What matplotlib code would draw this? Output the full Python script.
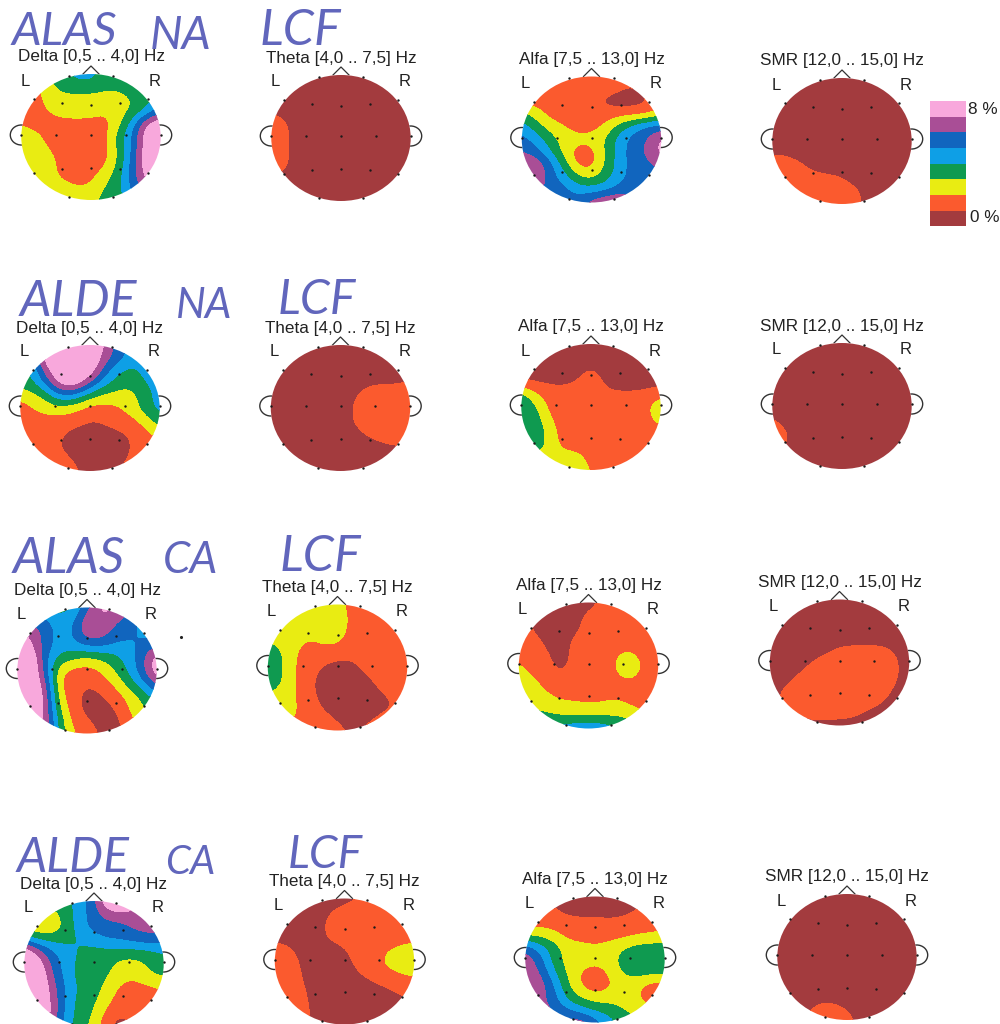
import numpy as np
import matplotlib
matplotlib.use("Agg")
import matplotlib.pyplot as plt
from matplotlib.patches import Ellipse, Rectangle

plt.rcParams['font.family'] = ['Liberation Sans', 'DejaVu Sans']

bands = ['Delta [0,5 .. 4,0] Hz', 'Theta [4,0 .. 7,5] Hz', 'Alfa [7,5 .. 13,0] Hz', 'SMR [12,0 .. 15,0] Hz']
colors = ['#A33B3E', '#FB5A2E', '#E9EC12', '#0F9A50', '#0E9FE6', '#1165BE', '#A94E96', '#F8A8DC']
scale_labels = ['8 %', '0 %']

# colour-band index (0 = 0 %, 7 = 8 %) read on a coarse grid over each head
r1_delta = [
 [3,3,3,3,4,4,3,3,3,3,3],
 [1,1,2,3,3,3,2.7,2.7,3,3,4],
 [1,1,2,2,2,2,2,2,2.5,3,4],
 [1,1,1.5,2,2,2,1.5,2,2.5,3.5,5],
 [1.5,1,1,1,1,1,1,2,4,7,8],
 [2,2,1,1,1,1,1,3,4.5,7.5,8],
 [2,2,1.5,1,1,1,1,2.6,4.5,7.5,8],
 [2,2,2,1,1,1,1,2.5,5,7.5,8],
 [2,2,2,1,1,1,2,3,5,7,8],
 [2,2,2,2,1.5,1.6,2.6,3,5,6,7],
 [2,2,2,2,2,2,3,3,4,5,6]]
r1_theta = [
 [0,0,0,0,0,0,0,0,0,0,0],
 [0,0,0,0,0,0,0,0,0,0,0],
 [0,0,0,0,0,0,0,0,0,0,0],
 [0.5,0.2,0,0,0,0,0,0,0,0,0],
 [1,0.7,0,0,0,0,0,0,0,0,0],
 [1,0.7,0,0,0,0,0,0,0,0,0],
 [1,0.7,0,0,0,0,0,0,0,0,0],
 [1,0.7,0,0,0,0,0,0,0,0,0],
 [0.6,0.3,0,0,0,0,0,0,0,0,0],
 [0,0,0,0,0,0,0,0,0,0,0],
 [0,0,0,0,0,0,0,0,0,0,0]]
r1_alfa = [
 [1,1,1,1,1,1,1,1,1,1,1],
 [1,1,1,1,1,1,1,0.6,0.2,1,1],
 [1,1,1,1,1,1,0,0,0,0.2,1],
 [3,2,1,1,1,1,1,1,1,1,2],
 [4,3,2,1.5,1,1,1.5,3,4,5,5],
 [5,4,3,2,2,2,2.5,4,5,5.4,7],
 [5.5,5,3.5,2,0.8,0.8,2.5,4,5,5.7,7],
 [6.5,6.5,5,3,1,1,2.5,4,5,5,6],
 [6.5,6.5,5,4,2.5,2,3,4,5,5,5],
 [6,6,5,5,4,4,4,5,5,5,5],
 [5,5,5,5,5,6,6.8,6.8,6,5,5]]
r1_smr = [
 [0,0,0,0,0,0,0,0,0,0,0],
 [0,0,0,0,0,0,0,0,0,0,0],
 [0,0,0,0,0,0,0,0,0,0,0],
 [0,0,0,0,0,0,0,0,0,0,0],
 [0,0,0,0,0,0,0,0,0,0,0],
 [0,0,0,0,0,0,0,0,0,0,0],
 [0.4,0.4,0,0,0,0,0,0,0,0,0],
 [1,1,0.8,0,0,0,0,0,0,0,0],
 [1,1,1,1,0.8,0.6,0,0,0,0,0],
 [1,1,1,1,1,1,0.8,0,0,0,0],
 [1,1,1,1,1,1,0.8,0,0,0,0]]
r2_delta = [
 [5,5,6,8,8,8,6.5,5,4,4,4],
 [4,4.5,8,8,8,8,6,5,4,4,4],
 [3,3.5,6.5,8,8,7.5,5,3.5,3,4,4],
 [3,3.3,5,7.5,7.5,5.5,3.7,3,2.7,3.5,4],
 [1.7,2,2.8,4.5,4,2.6,2.2,2,2,3,4],
 [1,1.5,2,2,1.5,1,1,1.3,2,3,4],
 [1,1,1,1,1,0.4,0.7,1,1,2,3],
 [1,1,1,0.6,0,0,0,0.3,0.6,1,2],
 [1,1,1,0.3,0,0,0,0,0.5,1,1],
 [1,1,1,0.8,0.3,0,0,0,0.7,1,1],
 [1,1,1,1,0.7,0,0,0.6,1,1,1]]
r2_theta = [
 [0,0,0,0,0,0,0,0,0,0,0],
 [0,0,0,0,0,0,0,0,0,0,0],
 [0,0,0,0,0,0,0,0,0,0,0],
 [0,0,0,0,0,0,0,0.3,0.4,0.4,0.6],
 [0,0,0,0,0,0,0.4,1,1,1,1],
 [0,0,0,0,0,0,0.6,1,1,1,1],
 [0,0,0,0,0,0,0.6,1,1,1,1],
 [0,0,0,0,0,0,0.2,0.7,1,1,1],
 [0,0,0,0,0,0,0,0,0.3,0.5,0.5],
 [0,0,0,0,0,0,0,0,0,0,0],
 [0,0,0,0,0,0,0,0,0,0,0]]
r2_alfa = [
 [0,0,0,0,0,0,0,0,0,0,0],
 [0,0,0,0,0,0,0,0,0,0,0],
 [0,0,0,0,0,0.7,0,0,0,0,0],
 [0.4,0.3,0.3,0.2,0.5,1.2,0.3,0,0,0,0.2],
 [3,1.6,1,1,1,1,0.7,0.7,0.7,0.8,1],
 [3.6,2.7,1,1,1,1,1,1,1,1.2,2.6],
 [3.6,3.2,1.5,1,1,1,1,1,1,1,2],
 [3.6,3.4,2,1,1,1,1,1,1,1,1],
 [3.4,3.2,2.2,1,1,1,1,1,1,1,1],
 [2,2,2,2,2,1,1,1,1,1,1],
 [2,2,2,2,2,1.5,1,1,1,1,1]]
r2_smr = [
 [0,0,0,0,0,0,0,0,0,0,0],
 [0,0,0,0,0,0,0,0,0,0,0],
 [0,0,0,0,0,0,0,0,0,0,0],
 [0,0,0,0,0,0,0,0,0,0,0],
 [0,0,0,0,0,0,0,0,0,0,0],
 [0,0,0,0,0,0,0,0,0,0,0],
 [0.6,0,0,0,0,0,0,0,0,0,0],
 [1,0.6,0,0,0,0,0,0,0,0,0],
 [1,0.6,0,0,0,0,0,0,0,0,0],
 [0,0,0,0,0,0,0,0,0,0,0],
 [0,0,0,0,0,0,0,0,0,0,0]]
r3_delta = [
 [3,3,3,3,3.2,5,6.8,6.8,6,5,5],
 [5,5,5,3.7,4,6.5,6.8,5.5,5,4,4],
 [6.5,6.5,5,4,4.4,6.5,6.2,5,5,4,4],
 [8,6.5,5,4,4,4.7,4.7,4.3,4,5,5],
 [8,8,4.5,3,2.7,2,2.5,3,4,5,7.5],
 [8,8,5,1.5,1,1,1.4,2.5,3.5,5.2,7.5],
 [8,8,6,1,1,0.5,1,1.5,3,4,6],
 [8,8,6.8,1.4,1,0,0.3,1,1.6,2.7,4],
 [8,8,6.5,2,1,0,0,0.4,1.6,2.3,3],
 [8,8,6.8,3,1,0.7,0,0,1,2,3],
 [8,8,6,3,1.5,1,0.4,0,1,2,3]]
r3_theta = [
 [2,2,2,2,2,2,1,1,1,1,1],
 [2,2,2,2,2,2,1.3,1,1,1,1],
 [2,2,2,2,2,2,1.2,1,1,1,1],
 [2.5,2,1.8,1.2,1.7,1.7,1,1,1,1,1],
 [3.4,2.6,1.4,1,1,0.8,0.8,1,1,1,1],
 [3.4,2.6,1.3,1,0.3,0,0,0.8,1,1,1],
 [3.4,2.6,1.4,0.7,0,0,0,0.1,0.9,1,1],
 [2.5,2,1.5,0.8,0,0,0,0,0.3,0.9,1],
 [2,2,1.6,0.9,0.3,0,0,0,0,0.4,1],
 [2,2,1.5,1,0.8,0.3,0,0.1,0.7,1,1],
 [1,1,1,1,1,0.9,0.2,0.8,1,1,1]]
r3_alfa = [
 [0.2,0.2,0.2,0.2,0,0,0.7,1,1,1,1],
 [0.6,0.6,0,0,0,0.8,1,1,1,1,1],
 [1,0.3,0,0,0.1,1,1,1,1,1,1],
 [1,0.9,0.2,0,0.7,1,1,1,1,1,1],
 [1,1,0.6,0,0.8,1,1,1.4,1.7,1,1],
 [1.7,1,0.8,0.1,0.8,1,1,1.6,2.3,1.3,1],
 [2,1.6,1,0.6,1,1,1,1.3,1.7,1,1],
 [2,2,1.4,1,1,1,1,1,1,1,1],
 [2,2,2,1.6,1.6,1.4,1.5,1.8,1.2,1,1],
 [3,3,2.5,2.4,2.2,2.2,2.2,2.4,2.3,1.7,1],
 [4,4,4,4,4.5,4.5,4.5,3.5,3,2,2]]
r3_smr = [
 [0,0,0,0,0,0,0,0,0,0,0],
 [0,0,0,0,0,0,0,0,0,0,0],
 [0,0,0,0,0,0,0,0,0,0,0],
 [0,0,0,0,0,0,0,0,0,0,0],
 [0,0,0,0,0.2,0.7,0.8,0.8,0.8,0.4,0],
 [0,0,0,0.5,1,1,1,1,1,0.7,0],
 [0,0,0.5,1,1,1,1,1,1,0.7,0],
 [0,0.5,1,1,1,1,1,1,1,0.4,0],
 [0,0.9,1,1,1,1,1,1,0.7,0,0],
 [0,0.4,0.9,1,1,1,0.8,0.3,0,0,0],
 [0,0,0,0,0,0,0,0,0,0,0]]
r4_delta = [
 [3,3,3,3,4,5,8,8,6,6,6],
 [3,3,1.8,3,4,5,6,6.3,6.7,6,6],
 [1.4,1.4,1.4,2.8,4,5,5,5,5.7,6,6],
 [4,3,3,3,3.6,4,4.7,4.7,5,5.3,5],
 [8,6,4.5,4,3.4,3,3,3,3,3,3.6],
 [8,7.5,5,4,3,3,2.8,2,2,2.7,3],
 [8,8,5.5,4,3,3,2.5,1.8,1.6,2.4,2.6],
 [8,8,6,4.3,3.2,3,2,1,1,1,1.5],
 [8,8,6.4,4,3,2.7,1.6,1,1,1,1],
 [8,8,6.4,4,3,2.5,0.8,0.4,1,1,1],
 [8,8,6,3.5,3,2,0.5,0,0.5,1,1]]
r4_theta = [
 [0,0,0,0,0,0,0.5,1,1,1,1],
 [0,0,0,0,0.4,1,1,1,1,1,1],
 [0,0,0,0,0.9,1,1,1,1,1,1],
 [0,0,0,0,0.8,1,1,1,1,1,1],
 [1,0.7,0,0,0,0.4,1,1,1.4,1.7,2],
 [1,1,0.3,0,0,0,0.9,1,1.8,2,2],
 [1,1,0.4,0,0,0,0.4,0.9,1.2,1.5,1.7],
 [1,1,0.6,0,0,0,0,0.1,0.5,0.8,1],
 [1,1,0.8,0,0,0,0,0,0,0.3,0.6],
 [1,1,0.9,0.1,0,0,0,0,0,0,0],
 [1,1,1,0,0,0,0,0,0,0,0]]
r4_alfa = [
 [0,0,0,0,0,0,0,0,0,0,0],
 [1,1,0.7,0,0,0,0,0,0.5,1,1],
 [1,1,1,0.9,0.8,0.8,0.7,0.8,1,1,1],
 [1.9,2,1.7,1,1,1,1,1,1.2,1.4,1.6],
 [5,4,3,2,1.8,1.6,1.8,2.4,2.9,3,3],
 [6.5,5,3,2,2,2,2,3,3.2,3.2,3],
 [6.5,5.5,3.6,2.2,1.4,0.8,1.5,2.7,3,3,3],
 [6.5,6.5,4.5,2.6,1.2,0.6,1.2,2,1.8,0.8,0.8],
 [6,6,5,3,2.3,1.8,2,2,1.6,0.8,1],
 [6,6,5.5,4.5,3.8,3.2,3,2.5,2,1.7,2],
 [6,6,6,6,6.5,5,4,3,3,2,2]]
r4_smr = [
 [0,0,0,0,0,0,0,0,0,0,0],
 [0,0,0,0,0,0,0,0,0,0,0],
 [0,0,0,0,0,0,0,0,0,0,0],
 [0,0,0,0,0,0,0,0,0,0,0],
 [0,0,0,0,0,0,0,0,0,0,0],
 [0,0,0,0,0,0,0,0,0,0,0],
 [0,0,0,0,0,0,0,0,0,0,0],
 [0,0,0,0,0,0,0,0,0,0,0],
 [0,0,0,0,0,0,0,0,0,0,0],
 [0,0,0,0.8,0.8,0.3,0,0,0,0,0],
 [0,0,0.8,1.2,1.2,1,0,0,0,0,0]]

maps = [r1_delta, r1_theta, r1_alfa, r1_smr,
        r2_delta, r2_theta, r2_alfa, r2_smr,
        r3_delta, r3_theta, r3_alfa, r3_smr,
        r4_delta, r4_theta, r4_alfa, r4_smr]

# layout in figure pixels
centers = [(91,137),(341,138),(591.5,139.5),(842,141),
           (90,408),(340.5,408),(591,407),(842,406),
           (87,670.5),(337.5,667.5),(588.5,665.5),(839.5,662.5),
           (94,964),(344.5,961.5),(595,959.5),(847,957)]
RX, RY = 69.7, 63

elec_x = [-0.32,0.32,-0.82,-0.42,0,0.42,0.82,-1,-0.5,0,0.5,1,-0.82,-0.42,0,0.42,0.82,-0.32,0.32]
elec_y = [0.97,0.97,0.6,0.54,0.51,0.54,0.6,0.03,0.03,0.03,0.03,0.03,-0.57,-0.51,-0.49,-0.51,-0.57,-0.95,-0.95]

hand_words = [('ALAS',12,45,47),('NA',150,49,46),('LCF',260,45,50),
              ('ALDE',20,316,50),('NA',176,318,42),('LCF',278,314,48),
              ('ALAS',13,573,50),('CA',163,573,44),('LCF',280,571,50),
              ('ALDE',17,872,48),('CA',165,874,40),('LCF',288,868,46)]


def fine_field(z, k=8, sigma=0.5):
    """Resample the read grid k times finer and soften the band edges."""
    ny, nx = z.shape
    xf = np.linspace(0, nx - 1, (nx - 1) * k + 1)
    yf = np.linspace(0, ny - 1, (ny - 1) * k + 1)
    a = np.array([np.interp(xf, np.arange(nx), row) for row in z])
    a = np.array([np.interp(yf, np.arange(ny), col) for col in a.T]).T
    r = int(3 * sigma * k)
    g = np.exp(-0.5 * (np.arange(-r, r + 1) / (sigma * k)) ** 2)
    g /= g.sum()
    p = np.pad(a, r, mode='edge')
    p = np.apply_along_axis(lambda m: np.convolve(m, g, mode='valid'), 0, p)
    p = np.apply_along_axis(lambda m: np.convolve(m, g, mode='valid'), 1, p)
    return p


fig = plt.figure(figsize=(10, 10.24), dpi=100)
ax = fig.add_axes([0, 0, 1, 1])
ax.set_xlim(0, 1000)
ax.set_ylim(1024, 0)
ax.axis('off')

levels = np.arange(-0.5, 8.5, 1.0)
line = '#333333'
ink = '#222222'

for i, (z, (cx, cy)) in enumerate(zip(maps, centers)):
    f = fine_field(np.array(z, dtype=float))
    u = np.linspace(-1, 1, f.shape[1])
    v = np.linspace(1, -1, f.shape[0])
    ax.add_patch(Ellipse((cx - RX, cy - 2), 22, 20, fill=False, ec=line, lw=1, zorder=1))
    ax.add_patch(Ellipse((cx + RX, cy - 2), 22, 20, fill=False, ec=line, lw=1, zorder=1))
    ax.plot([cx - 8, cx, cx + 8], [cy - 63, cy - 71, cy - 63], color=line, lw=0.9, zorder=1)
    head = Ellipse((cx, cy), 2 * RX, 2 * RY, fc='white', ec='none', zorder=2)
    ax.add_patch(head)
    cs = ax.contourf(cx + RX * u, cy - RY * v, np.clip(f, 0, 7), levels=levels, colors=colors, zorder=3)
    cs.set_clip_path(head)
    ax.scatter(cx + RX * np.array(elec_x), cy - RY * np.array(elec_y), s=3, color='#1a1a1a', lw=0, zorder=4)
    ax.text(cx, cy - 80, bands[i % 4], ha='center', va='center', fontsize=12.3, color=ink)
    ax.text(cx - 66, cy - 56, 'L', ha='center', va='center', fontsize=12, color=ink)
    ax.text(cx + 64, cy - 56, 'R', ha='center', va='center', fontsize=12, color=ink)

for word, x, base, px in hand_words:
    ax.text(x, base, word, ha='left', va='baseline', fontsize=px * 0.72,
            color='#6166BC', style='italic', family=['Lato', 'Liberation Sans'], weight='normal')

top, step = 101.0, 15.65
for k, c in enumerate(colors[::-1]):
    ax.add_patch(Rectangle((930, top + k * step), 36, step, fc=c, ec='none', zorder=3))
ax.text(968, 109, scale_labels[0], ha='left', va='center', fontsize=12.3, color=ink)
ax.text(970, 218, scale_labels[1], ha='left', va='center', fontsize=12.3, color=ink)
ax.scatter([181], [637], s=5, color=ink, lw=0)

fig.savefig('out.png', dpi=100, facecolor='white')
